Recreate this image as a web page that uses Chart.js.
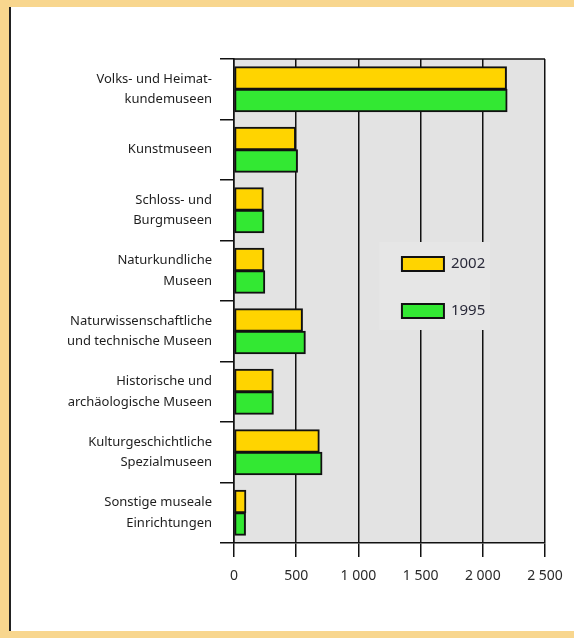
<!DOCTYPE html>
<html>
<head>
<meta charset="utf-8">
<script src="https://cdn.jsdelivr.net/npm/chart.js@4/dist/chart.umd.min.js"></script>
<style>
  html, body { margin: 0; padding: 0; }
  body { width: 574px; height: 638px; background: #f8d68e; position: relative; overflow: hidden; }
  #panel { position: absolute; left: 9px; top: 7px; width: 565px; height: 624px; background: #fff; border-left: 2px solid #222; box-sizing: border-box; }
  #wrap { position: absolute; left: 0; top: 0; width: 574px; height: 638px; }
</style>
</head>
<body>
<div id="panel"></div>
<div id="wrap"><canvas id="chart" width="574" height="638"></canvas></div>
<script>
const categories = [
  ["Volks- und Heimat-", "kundemuseen"],
  "Kunstmuseen",
  ["Schloss- und", "Burgmuseen"],
  ["Naturkundliche", "Museen"],
  ["Naturwissenschaftliche", "und technische Museen"],
  ["Historische und", "archäologische Museen"],
  ["Kulturgeschichtliche", "Spezialmuseen"],
  ["Sonstige museale", "Einrichtungen"]
];
const values2002 = [2190, 495, 235, 240, 550, 315, 685, 95];
const values1995 = [2195, 510, 240, 247, 573, 316, 707, 92];
const seriesNames = ["2002", "1995"];
const xTicks = [0, 500, 1000, 1500, 2000, 2500];

const yellow = "#ffd400";
const green = "#33e833";

// grey plot background and top frame line
const plotFrame = {
  id: "plotFrame",
  beforeDraw(chart) {
    const { ctx, chartArea: a } = chart;
    ctx.save();
    ctx.fillStyle = "#e3e3e3";
    ctx.fillRect(a.left, a.top, a.right - a.left, a.bottom - a.top);
    ctx.restore();
  },
  afterDraw(chart) {
    const { ctx, chartArea: a } = chart;
    ctx.save();
    ctx.strokeStyle = "#111";
    ctx.lineWidth = 1.5;
    ctx.beginPath();
    ctx.moveTo(a.left, a.top);
    ctx.lineTo(a.right, a.top);
    ctx.stroke();
    ctx.restore();
  }
};

// legend box sitting inside the plot, covering the grid lines
const innerLegend = {
  id: "innerLegend",
  afterDraw(chart) {
    const { ctx } = chart;
    const x = chart.scales.x;
    const left = x.getPixelForValue(1170);
    const clipRight = x.getPixelForValue(2060);
    const top = 242, bottom = 330;
    ctx.save();
    ctx.fillStyle = "#e6e6e6";
    ctx.fillRect(left, top, clipRight - left, bottom - top);
    ctx.beginPath();
    ctx.rect(left, top, clipRight - left, bottom - top);
    ctx.clip();
    const boxLeft = x.getPixelForValue(1350);
    const rows = [
      { name: seriesNames[0], color: yellow, y: 257 },
      { name: seriesNames[1], color: green, y: 304 }
    ];
    ctx.font = "15px 'Noto Sans'";
    ctx.textBaseline = "middle";
    rows.forEach((r) => {
      ctx.fillStyle = r.color;
      ctx.fillRect(boxLeft, r.y, 42, 14);
      ctx.strokeStyle = "#111";
      ctx.lineWidth = 2;
      ctx.strokeRect(boxLeft, r.y, 42, 14);
      ctx.fillStyle = "#2a2a3a";
      ctx.fillText(r.name, boxLeft + 49, r.y + 7);
    });
    ctx.restore();
  }
};

new Chart(document.getElementById("chart"), {
  type: "bar",
  data: {
    labels: categories,
    datasets: [
      {
        label: seriesNames[0],
        data: values2002,
        backgroundColor: yellow,
        borderColor: "#111",
        borderWidth: 2,
        borderSkipped: false,
        inflateAmount: 0.5
      },
      {
        label: seriesNames[1],
        data: values1995,
        backgroundColor: green,
        borderColor: "#111",
        borderWidth: 2,
        borderSkipped: false,
        inflateAmount: 0.5
      }
    ]
  },
  options: {
    indexAxis: "y",
    responsive: false,
    animation: false,
    devicePixelRatio: 1,
    categoryPercentage: 0.74,
    barPercentage: 1,
    layout: { padding: { top: 59, right: 29, left: 0, bottom: 0 } },
    plugins: {
      legend: { display: false },
      tooltip: { enabled: false }
    },
    scales: {
      x: {
        min: 0,
        max: 2500,
        afterBuildTicks: (s) => { s.ticks = xTicks.map((v) => ({ value: v })); },
        afterFit: (s) => { s.height = 95; },
        grid: { color: "#111", lineWidth: 1.5, tickLength: 14, tickColor: "#111" },
        border: { color: "#111", width: 1.5 },
        ticks: {
          color: "#2a2a2a",
          padding: 11,
          maxRotation: 0,
          font: { family: "'Noto Sans'", size: 14 },
          callback: (v) => String(v).replace(/\B(?=(\d{3})+(?!\d))/g, " ")
        }
      },
      y: {
        afterFit: (s) => { s.width = 234; },
        grid: { drawOnChartArea: false, offset: true, color: "#111", lineWidth: 1.5, tickLength: 14 },
        border: { color: "#111", width: 1.5 },
        ticks: {
          color: "#1e1e1e",
          padding: 8,
          font: { family: "'Noto Sans'", size: 13, lineHeight: 1.6 }
        }
      }
    }
  },
  plugins: [plotFrame, innerLegend]
});
</script>
</body>
</html>
